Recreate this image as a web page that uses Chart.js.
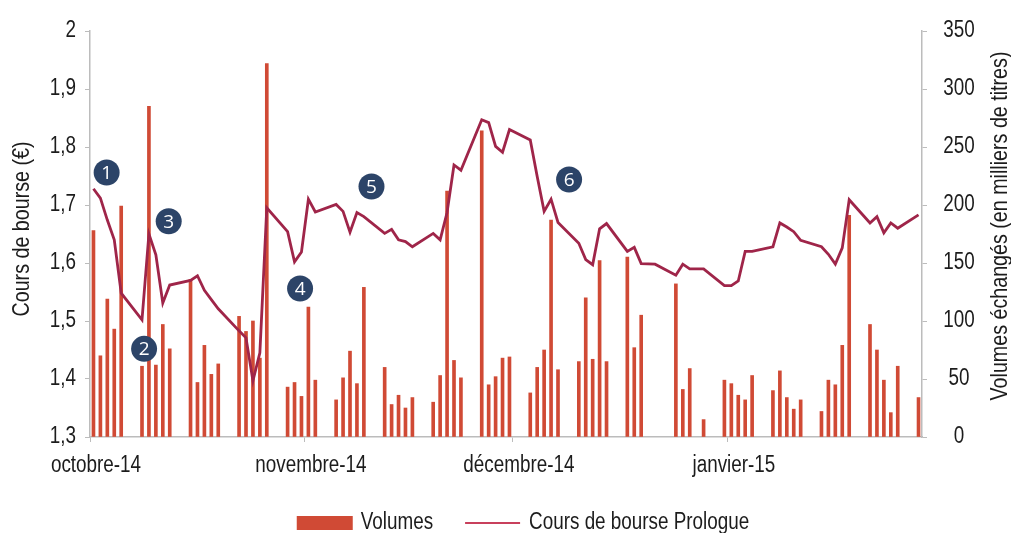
<!DOCTYPE html>
<html>
<head>
<meta charset="utf-8">
<script src="https://cdn.jsdelivr.net/npm/chart.js@4.4.1/dist/chart.umd.min.js"></script>
<style>
  html, body { margin: 0; padding: 0; background: #fff; overflow: hidden; }
</style>
</head>
<body>
<canvas id="chart" width="1011" height="533"></canvas>
<script>
// trading days (Prologue, Euronext Paris)
const dates = [
  '2014-10-06','2014-10-07','2014-10-08','2014-10-09','2014-10-10',
  '2014-10-13','2014-10-14','2014-10-15','2014-10-16','2014-10-17',
  '2014-10-20','2014-10-21','2014-10-22','2014-10-23','2014-10-24',
  '2014-10-27','2014-10-28','2014-10-29','2014-10-30','2014-10-31',
  '2014-11-03','2014-11-04','2014-11-05','2014-11-06','2014-11-07',
  '2014-11-10','2014-11-11','2014-11-12','2014-11-13','2014-11-14',
  '2014-11-17','2014-11-18','2014-11-19','2014-11-20','2014-11-21',
  '2014-11-24','2014-11-25','2014-11-26','2014-11-27','2014-11-28',
  '2014-12-01','2014-12-02','2014-12-03','2014-12-04','2014-12-05',
  '2014-12-08','2014-12-09','2014-12-10','2014-12-11','2014-12-12',
  '2014-12-15','2014-12-16','2014-12-17','2014-12-18','2014-12-19',
  '2014-12-22','2014-12-23','2014-12-24','2014-12-26',
  '2014-12-29','2014-12-30','2014-12-31','2015-01-02',
  '2015-01-05','2015-01-06','2015-01-07','2015-01-08','2015-01-09',
  '2015-01-12','2015-01-13','2015-01-14','2015-01-15','2015-01-16',
  '2015-01-19','2015-01-20','2015-01-21','2015-01-22','2015-01-23',
  '2015-01-26','2015-01-27','2015-01-28','2015-01-29','2015-01-30',
  '2015-02-02'
];

// cours de bourse (€)
const prices = [
  1.728, 1.712, 1.674, 1.640, 1.548,
  1.502, 1.650, 1.614, 1.531, 1.562,
  1.570, 1.578, 1.553, 1.537, 1.521,
  1.483, 1.471, 1.397, 1.445, 1.695,
  1.654, 1.602, 1.619, 1.710, 1.688,
  1.701, 1.689, 1.653, 1.687, 1.680,
  1.651, 1.658, 1.640, 1.637, 1.628,
  1.651, 1.640, 1.687, 1.769, 1.760,
  1.847, 1.842, 1.801, 1.791, 1.830,
  1.812, 1.749, 1.689, 1.710, 1.670,
  1.634, 1.606, 1.597, 1.659, 1.668,
  1.620, 1.627, 1.599, 1.598,
  1.579, 1.598, 1.590, 1.590,
  1.561, 1.561, 1.569, 1.620, 1.620,
  1.628, 1.669, 1.662, 1.654, 1.639,
  1.628, 1.615, 1.598, 1.626, 1.709,
  1.669, 1.680, 1.652, 1.669, 1.660,
  1.683
];

// volumes (milliers de titres)
const volumes = [
  178, 70, 119, 93, 199,
  61, 285, 62, 97, 76,
  136, 47, 79, 54, 63,
  104, 91, 100, 68, 322,
  43, 47, 35, 112, 49,
  32, 51, 74, 46, 129,
  60, 28, 36, 25, 34,
  30, 53, 212, 66, 51,
  264, 45, 52, 68, 69,
  38, 60, 75, 187, 58,
  65, 120, 67, 152, 65,
  155, 77, 105, null,
  132, 41, 59, 15,
  49, 46, 36, 32, 53,
  40, 57, 34, 24, 32,
  22, 49, 45, 79, 191,
  97, 75, 49, 21, 61,
  34
];

const monthTicks = ['2014-10-06', '2014-11-06', '2014-12-06', '2015-01-06'];
const monthLabels = ['octobre-14', 'novembre-14', 'décembre-14', 'janvier-15'];

// numbered call-outs, placed in (days since start, price)
const markers = [
  { label: '1', day: 1.9,  price: 1.756 },
  { label: '2', day: 7.3,  price: 1.452 },
  { label: '3', day: 10.85, price: 1.672 },
  { label: '4', day: 29.8, price: 1.556 },
  { label: '5', day: 40.1, price: 1.732 },
  { label: '6', day: 68.6, price: 1.744 }
];

const BAR = '#d04a35';
const LINE = '#9f2549';
const TXT = '#1c1c1c';
const AXIS = '#bcbcbc';
const DOT = '#2c4468';
const FAM = '"Liberation Sans", Arial, sans-serif';
const FS = 23;
const SQUEEZE = 0.82; // the original uses a narrow grotesque

const t0 = Date.parse(dates[0]);
const dayOf = s => Math.round((Date.parse(s) - t0) / 86400000);
const fmtPrice = v => String(Number(v.toFixed(1))).replace('.', ',');

function narrowText(ctx, text, x, y, align, rot) {
  ctx.save();
  ctx.translate(x, y);
  if (rot) ctx.rotate(rot);
  ctx.scale(SQUEEZE, 1);
  ctx.textAlign = align;
  ctx.fillText(text, 0, 0);
  ctx.restore();
}

const decorations = {
  id: 'decorations',
  afterDatasetsDraw(chart) {
    const ctx = chart.ctx;
    const sx = chart.scales.x, sy = chart.scales.y;
    ctx.save();
    for (const m of markers) {
      const px = sx.getPixelForValue(m.day);
      const py = sy.getPixelForValue(m.price);
      ctx.beginPath();
      ctx.arc(px, py, 13, 0, Math.PI * 2);
      ctx.fillStyle = DOT;
      ctx.fill();
      ctx.fillStyle = '#fff';
      ctx.font = '19px "Open Sans", "Liberation Sans", sans-serif';
      ctx.textAlign = 'center';
      ctx.textBaseline = 'middle';
      ctx.fillText(m.label, px, py + 1);
    }
    ctx.restore();
  },
  afterDraw(chart) {
    const ctx = chart.ctx;
    const area = chart.chartArea;
    const sx = chart.scales.x, sy = chart.scales.y, sr = chart.scales.yR;
    ctx.save();
    ctx.font = FS + 'px ' + FAM;
    ctx.fillStyle = TXT;
    ctx.textBaseline = 'middle';

    // tick labels
    sy.ticks.forEach(t => narrowText(ctx, fmtPrice(t.value), area.left - 14, sy.getPixelForValue(t.value), 'right'));
    sr.ticks.forEach(t => narrowText(ctx, String(t.value), area.right + 37, sr.getPixelForValue(t.value), 'center'));
    sx.ticks.forEach((t, i) => narrowText(ctx, monthLabels[i], sx.getPixelForValue(t.value) + 6, area.bottom + 29, 'center'));

    // axis titles, both reading bottom to top
    ctx.font = '24px ' + FAM;
    narrowText(ctx, 'Cours de bourse (€)', 22, 229, 'center', -Math.PI / 2);
    narrowText(ctx, 'Volumes échangés (en milliers de titres)', 1000, 226, 'center', -Math.PI / 2);

    // legend
    ctx.font = FS + 'px ' + FAM;
    const ds = chart.data.datasets;
    const w1 = ctx.measureText(ds[0].label).width * SQUEEZE;
    const w2 = ctx.measureText(ds[1].label).width * SQUEEZE;
    const total = 56 + 8 + w1 + 32 + 55 + 9 + w2;
    let x = 523 - total / 2;
    const y = 523;
    ctx.fillStyle = BAR;
    ctx.fillRect(x, y - 7, 56, 14);
    x += 64;
    ctx.fillStyle = TXT;
    narrowText(ctx, ds[0].label, x, y, 'left');
    x += w1 + 32;
    ctx.strokeStyle = '#c8405c';
    ctx.lineWidth = 2;
    ctx.beginPath();
    ctx.moveTo(x, y);
    ctx.lineTo(x + 55, y);
    ctx.stroke();
    x += 64;
    narrowText(ctx, ds[1].label, x, y, 'left');
    ctx.restore();
  }
};

const gridOpts = { drawOnChartArea: false, drawTicks: true, tickLength: 5, color: AXIS, offset: false };

new Chart(document.getElementById('chart'), {
  type: 'bar',
  data: {
    datasets: [
      {
        type: 'bar',
        label: 'Volumes',
        data: dates.map((d, i) => ({ x: dayOf(d), y: volumes[i] })),
        backgroundColor: BAR,
        barThickness: 3,
        yAxisID: 'yR',
        order: 2
      },
      {
        type: 'line',
        label: 'Cours de bourse Prologue',
        data: dates.map((d, i) => ({ x: dayOf(d), y: prices[i] })),
        borderColor: LINE,
        borderWidth: 2.8,
        pointRadius: 0,
        tension: 0,
        yAxisID: 'y',
        order: 1
      }
    ]
  },
  options: {
    responsive: false,
    animation: false,
    layout: { padding: { top: 31, right: 0, bottom: 0, left: 0 } },
    plugins: { legend: { display: false }, tooltip: { enabled: false } },
    scales: {
      x: {
        type: 'linear',
        min: -0.5,
        max: 119.5,
        offset: false,
        afterBuildTicks: s => { s.ticks = monthTicks.map(m => ({ value: dayOf(m) - 0.5 })); },
        afterFit: s => { s.height = 96; },
        ticks: { display: false },
        grid: gridOpts,
        border: { color: AXIS, width: 1.5 }
      },
      y: {
        position: 'left',
        min: 1.3,
        max: 2,
        afterFit: s => { s.width = 90; },
        ticks: { stepSize: 0.1, display: false },
        grid: gridOpts,
        border: { color: AXIS, width: 1.5 }
      },
      yR: {
        position: 'right',
        min: 0,
        max: 350,
        afterFit: s => { s.width = 89; },
        ticks: { stepSize: 50, display: false },
        grid: gridOpts,
        border: { color: AXIS, width: 1.5 }
      }
    }
  },
  plugins: [decorations]
});
</script>
</body>
</html>
